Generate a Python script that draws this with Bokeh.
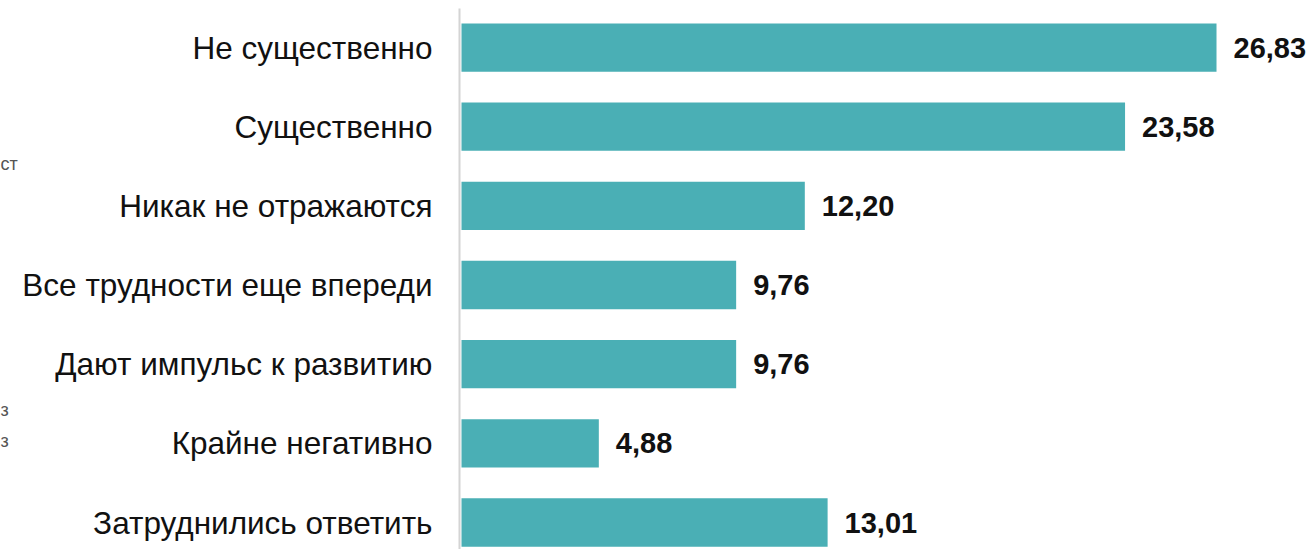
from bokeh.plotting import figure
from bokeh.models import ColumnDataSource, Range1d, FixedTicker, Label
from bokeh.core.properties import value
from bokeh.embed import file_html
from bokeh.resources import INLINE

categories = ["Не существенно", "Существенно", "Никак не отражаются",
              "Все трудности еще впереди", "Дают импульс к развитию",
              "Крайне негативно", "Затруднились ответить"]
values = [26.83, 23.58, 12.20, 9.76, 9.76, 4.88, 13.01]
value_labels = ["26,83", "23,58", "12,20", "9,76", "9,76", "4,88", "13,01"]
stray_texts = ["ст", "\u00a0", "\u00a0", "\u00a0", "\u00a0", "\u00a0", "\u00a0", "\u00a0", "з", "з"]

pos = list(range(len(categories)))
src = ColumnDataSource(dict(y=pos, v=values, lab=value_labels))

p = figure(width=1310, height=549, output_backend="svg", toolbar_location=None,
           x_range=Range1d(-0.071, 30.17), y_range=Range1d(6.341, -0.493),
           min_border_left=459, min_border_right=0, min_border_top=8, min_border_bottom=0)

p.hbar(y="y", left=0, right="v", height=0.61, source=src,
       fill_color="#4aafb5", line_color=None)
p.text(x="v", y="y", text="lab", source=src, x_offset=17,
       text_font_size="29px", text_font_style="bold", text_color="#111111",
       text_baseline="middle", text_align="left", text_font=value("Liberation Sans"))

p.xaxis.visible = False
p.grid.visible = False
p.outline_line_color = None

ya = p.yaxis[0]
ya.ticker = FixedTicker(ticks=pos)
ya.major_label_overrides = {i: c for i, c in enumerate(categories)}
ya.major_tick_line_color = None
ya.minor_tick_line_color = None
ya.axis_line_color = "#d4d4d4"
ya.axis_line_width = 2
ya.major_label_standoff = 21
ya.major_label_text_font = "Liberation Sans"
ya.major_label_text_font_size = "31.5px"
ya.major_label_text_color = "#111111"

p.add_layout(Label(x=0, y=153, x_units="canvas", y_units="canvas",
                   text="\n".join(stray_texts), text_font="Liberation Sans",
                   text_font_size="18px", text_line_height=27.7 / 18,
                   text_color="#555555", text_baseline="top", text_align="left"),
             "left")

open("out.html", "w").write(file_html(p, INLINE))
